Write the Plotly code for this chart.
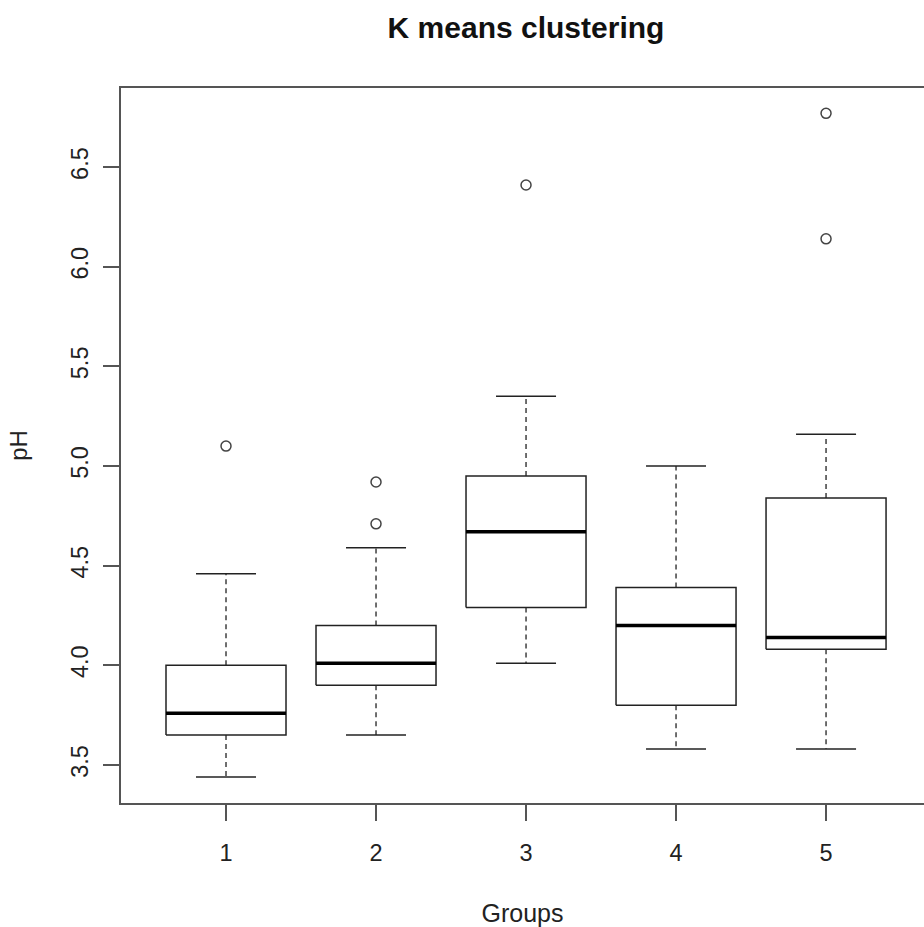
import plotly.graph_objects as go

# Summary statistics of pH for each K-means cluster
groups = [1, 2, 3, 4, 5]
lower_whisker = [3.44, 3.65, 4.01, 3.58, 3.58]
q1 = [3.65, 3.90, 4.29, 3.80, 4.08]
median = [3.76, 4.01, 4.67, 4.20, 4.14]
q3 = [4.00, 4.20, 4.95, 4.39, 4.84]
upper_whisker = [4.46, 4.59, 5.35, 5.00, 5.16]
outliers = [[5.10], [4.92, 4.71], [6.41], [], [6.77, 6.14]]

tick_labels = ["1", "2", "3", "4", "5"]

BOX_HALF = 0.4
CAP_HALF = 0.2
INK = "#222222"
FRAME = "#555555"
FONT = "Liberation Sans, Arial, sans-serif"

box_x, box_y = [], []
med_x, med_y = [], []
wh_x, wh_y = [], []
cap_x, cap_y = [], []
out_x, out_y = [], []
for g, lo, a, m, b, hi, outs in zip(groups, lower_whisker, q1, median, q3,
                                     upper_whisker, outliers):
    box_x += [g - BOX_HALF, g + BOX_HALF, g + BOX_HALF, g - BOX_HALF, g - BOX_HALF, None]
    box_y += [a, a, b, b, a, None]
    med_x += [g - BOX_HALF, g + BOX_HALF, None]
    med_y += [m, m, None]
    wh_x += [g, g, None, g, g, None]
    wh_y += [b, hi, None, a, lo, None]
    cap_x += [g - CAP_HALF, g + CAP_HALF, None, g - CAP_HALF, g + CAP_HALF, None]
    cap_y += [hi, hi, None, lo, lo, None]
    out_x += [g] * len(outs)
    out_y += outs

fig = go.Figure()
fig.add_trace(go.Scatter(x=wh_x, y=wh_y, mode="lines",
                         line=dict(color=INK, width=1.3, dash="5px,4px")))
fig.add_trace(go.Scatter(x=cap_x, y=cap_y, mode="lines",
                         line=dict(color=INK, width=1.5)))
fig.add_trace(go.Scatter(x=box_x, y=box_y, mode="lines",
                         line=dict(color=INK, width=1.5)))
fig.add_trace(go.Scatter(x=med_x, y=med_y, mode="lines",
                         line=dict(color="#000000", width=3.5)))
fig.add_trace(go.Scatter(x=out_x, y=out_y, mode="markers",
                         marker=dict(symbol="circle-open", size=10,
                                     color="#444444", line=dict(width=1.5))))

fig.update_layout(
    width=924, height=927,
    margin=dict(l=121, r=0, t=88, b=124),
    paper_bgcolor="white", plot_bgcolor="white",
    showlegend=False,
    font=dict(family=FONT, color=INK, size=23.5),
    title=dict(text="<b>K means clustering</b>", x=526 / 924, xanchor="center",
               y=1 - 27 / 927, yanchor="middle",
               font=dict(size=30, color="#111111")),
    xaxis=dict(range=[0.3, 5.653], tickmode="array", tickvals=groups,
               ticktext=tick_labels, ticks="outside", ticklen=16,
               tickcolor=FRAME, tickwidth=1.5, showgrid=False, zeroline=False,
               showline=True, linecolor=FRAME, linewidth=1.5, mirror=True,
               ticklabelstandoff=12, automargin=False,
               title=dict(text="Groups", standoff=40, font=dict(size=25))),
    yaxis=dict(range=[3.309, 6.897], tickvals=[3.5, 4.0, 4.5, 5.0, 5.5, 6.0, 6.5],
               ticktext=["3.5", "4.0", "4.5", "5.0", "5.5", "6.0", "6.5"],
               tickangle=-90, ticks="outside", ticklen=16, tickcolor=FRAME,
               tickwidth=1.5, showgrid=False, zeroline=False, showline=True,
               linecolor=FRAME, linewidth=1.5, mirror=False,
               ticklabelstandoff=6, automargin=False,
               title=dict(text="pH", standoff=32, font=dict(size=24))),
)

fig.write_html("out.html")
